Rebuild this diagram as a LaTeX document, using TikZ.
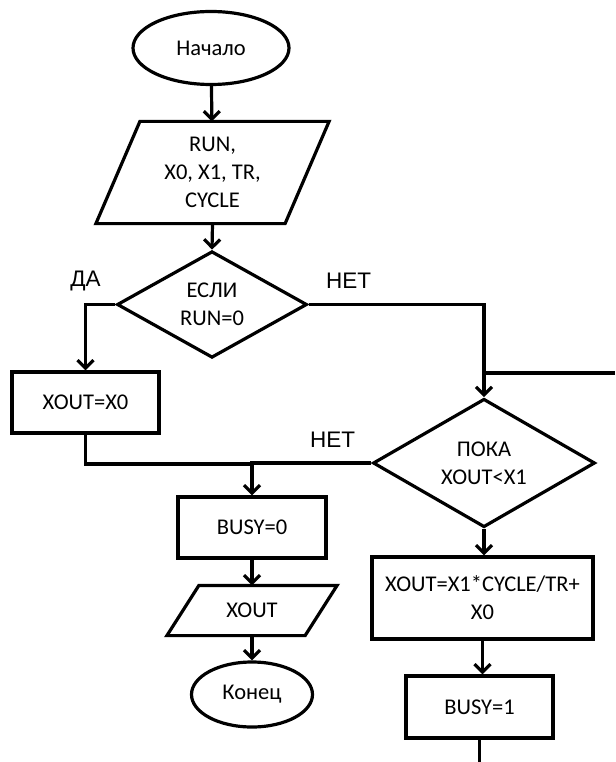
\documentclass[tikz,border=0pt]{standalone}
\usepackage{fontspec}
\setmainfont{Carlito}
\newfontfamily\lblfont{Liberation Sans}
\usetikzlibrary{shapes.geometric,arrows.meta}

\begin{document}
\begin{tikzpicture}[x=1pt,y=-1pt,
  line width=3.2pt,
  every node/.style={font=\fontsize{22.5pt}{28pt}\selectfont, align=center, inner sep=0pt},
  terminal/.style={ellipse, draw},
  procbox/.style={rectangle, draw},
  decision/.style={diamond, draw},
  iobox/.style={rectangle, draw=none},
  branchlabel/.style={font=\lblfont\fontsize{22.5pt}{26pt}\selectfont},
  flow/.style={-{Straight Barb[length=8pt,width=16pt]}},
]
\useasboundingbox (0,0) rectangle (615,762);

% start and input
\node[terminal, minimum width=156pt, minimum height=73pt] (start) at (211,48) {Начало};
\node[iobox, minimum width=186pt, minimum height=99pt] (in) at (212.5,172.5) {RUN,\\X0, X1, TR,\\CYCLE};
\draw ([xshift=22pt]in.north west) -- ([xshift=22pt]in.north east)
   -- ([xshift=-22pt]in.south east) -- ([xshift=-22pt]in.south west) -- cycle;

% first decision
\node[decision, minimum width=190pt, minimum height=105pt] (ifrun) at (212,304.5) {ЕСЛИ\\RUN=0};
\node[branchlabel] (yes) at (85.5,280.5) {ДА};
\node[branchlabel] (no1) at (348.5,280.5) {НЕТ};

% reset branch
\node[procbox, minimum width=147pt, minimum height=61pt] (reset) at (85.5,402.5) {XOUT=X0};

% loop decision
\node[decision, minimum width=222pt, minimum height=120pt] (loop) at (484,463) {ПОКА\\XOUT<X1};
\node[branchlabel] (no2) at (332.5,440) {НЕТ};

% loop body
\node[procbox, minimum width=221pt, minimum height=82pt] (calc) at (482.5,598) {XOUT=X1*CYCLE/TR+\\X0};
\node[procbox, minimum width=147pt, minimum height=62pt] (busy1) at (479.5,707) {BUSY=1};

% exit branch
\node[procbox, minimum width=148pt, minimum height=61pt] (busy0) at (252,527.5) {BUSY=0};
\node[iobox, minimum width=135pt, minimum height=47pt] (out) at (252,610.5) {XOUT};
\draw ([xshift=16pt]out.north west) -- ([xshift=16pt]out.north east)
   -- ([xshift=-16pt]out.south east) -- ([xshift=-16pt]out.south west) -- cycle;
\node[terminal, minimum width=121pt, minimum height=65pt] (stop) at (252,694.5) {Конец};

% free ends of connectors
\coordinate (join) at (253,464);
\coordinate (loopback) at (615,373);
\coordinate (bodyend) at (479.5,762);

% connectors
\draw[flow] (start) -- (in);
\draw[flow] (in.south) -- (ifrun.north);
\draw[flow] (ifrun.west) -| (reset.north);
\draw[flow] (ifrun.east) -| (loop.north);
\draw (loopback) -- (loopback -| loop.north);
\draw (reset.south) |- (join);
\draw[flow] (loop.west) -| (busy0.north);
\draw[flow] (busy0.south) -- (out.north);
\draw[flow] (out.south) -- (stop.north);
\draw[flow] (loop.south) -- (loop.south |- calc.north);
\draw[flow] (calc.south) -- (calc.south |- busy1.north);
\draw (busy1.south) -- (bodyend);
\end{tikzpicture}
\end{document}
